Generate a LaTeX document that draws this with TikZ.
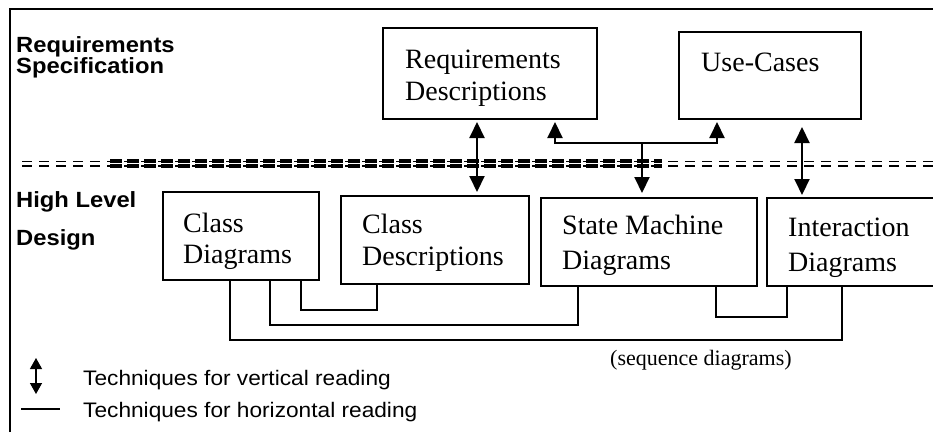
\documentclass[tikz,border=0pt]{standalone}
\usepackage{fontspec}
\setmainfont{Liberation Serif}
\newfontfamily\lblfont[FakeStretch=1.08]{Liberation Sans}
\usetikzlibrary{arrows.meta}

\begin{document}
\begin{tikzpicture}[x=1pt,y=-1pt,
  box/.style={draw, line width=2pt, rectangle, anchor=north west, inner sep=0pt},
  boxtext/.style={anchor=base west, inner sep=0pt, align=left, font=\fontsize{28}{32}\selectfont},
  lvl/.style={anchor=base west, inner sep=0pt, align=left, font=\lblfont\bfseries\fontsize{22}{21}\selectfont},
  legtext/.style={anchor=base west, inner sep=0pt, font=\lblfont\fontsize{21}{24}\selectfont},
  tip/.style={line width=2pt, -{Triangle[width=15pt,length=16pt]}, shorten >=2pt},
  vread/.style={line width=2pt, {Triangle[width=15pt,length=16pt]}-{Triangle[width=15pt,length=16pt]}},
  hread/.style={line width=1.8pt},
  septhick/.style={line width=3.2pt, dash pattern=on 12pt off 5pt},
  septhin/.style={line width=1.3pt, dash pattern=on 10pt off 7pt}]
\useasboundingbox (0,0) rectangle (933,432);
\clip (0,0) rectangle (933,432);

% frame
\draw[line width=1.2pt] (10,432) -- (10,9) -- (940,9);

% level separator (double dashed)
\draw[septhin] (22,161.5) -- (933,161.5);
\draw[septhin] (22,166) -- (933,166);
\draw[septhick] (110,161) -- (662,161);
\draw[septhick] (110,166) -- (662,166);

% level labels (multi-line nodes are placed by the baseline of their last line)
\node[lvl] (rs) at (16,73) {Requirements\\Specification};
\node[lvl, font=\lblfont\bfseries\fontsize{22}{38}\selectfont] (hl) at (16,245) {High Level\\Design};

% requirements level
\node[box, minimum width=214pt, minimum height=91pt] (rd) at (382,27) {};
\node[boxtext] (rdt) at (405,100) {Requirements\\Descriptions};
\node[box, minimum width=182pt, minimum height=87pt] (uc) at (678,31) {};
\node[boxtext] (uct) at (701,71) {Use-Cases};

% design level
\node[box, minimum width=156pt, minimum height=88pt] (cdg) at (162,191) {};
\node[boxtext, font=\fontsize{28}{31}\selectfont] (cdgt) at (183,263) {Class\\Diagrams};
\node[box, minimum width=188pt, minimum height=88pt] (cds) at (340,195) {};
\node[boxtext] (cdst) at (362,265) {Class\\Descriptions};
\node[box, minimum width=216pt, minimum height=88pt] (sm) at (540,197) {};
\node[boxtext, font=\fontsize{28}{35}\selectfont] (smt) at (562,269) {State Machine\\Diagrams};
\node[box, minimum width=190pt, minimum height=88pt] (id) at (766,197) {};
\node[boxtext, font=\fontsize{28}{35}\selectfont] (idt) at (788,271) {Interaction\\Diagrams};

% vertical reading
\draw[vread, shorten <=2pt, shorten >=3pt] (477,0 |- rd.south) -- (477,0 |- cds.north);
\coordinate (j) at (642,143);
\draw[tip] (j) -| (555,0 |- rd.south);
\draw[tip] (j) -| (717,0 |- uc.south);
\draw[tip, shorten >=4pt] (j) -- (j |- sm.north);
\draw[vread, shorten <=7pt, shorten >=2pt] (802,0 |- uc.south) -- (802,0 |- id.north);

% horizontal reading
\draw[hread] (301,0 |- cdg.south) -- (301,310) -| (377,0 |- cds.south);
\draw[hread] (270,0 |- cdg.south) -- (270,325) -| (578,0 |- sm.south);
\draw[hread] (230,0 |- cdg.south) -- (230,340) -| (842,0 |- id.south);
\draw[hread] (716,0 |- sm.south) -- (716,317) -| (787,0 |- id.south);
\node[anchor=base west, inner sep=0pt, font=\fontsize{22}{24}\selectfont] (sq) at (610,365) {(sequence diagrams)};

% legend
\draw[line width=1.3pt, {Triangle[width=12pt,length=11pt]}-{Triangle[width=12pt,length=11pt]}] (36,358) -- (36,394);
\draw[hread] (21,409) -- (60,409);
\node[legtext] (lv) at (83,385) {Techniques for vertical reading};
\node[legtext] (lh) at (83,417) {Techniques for horizontal reading};
\end{tikzpicture}
\end{document}
